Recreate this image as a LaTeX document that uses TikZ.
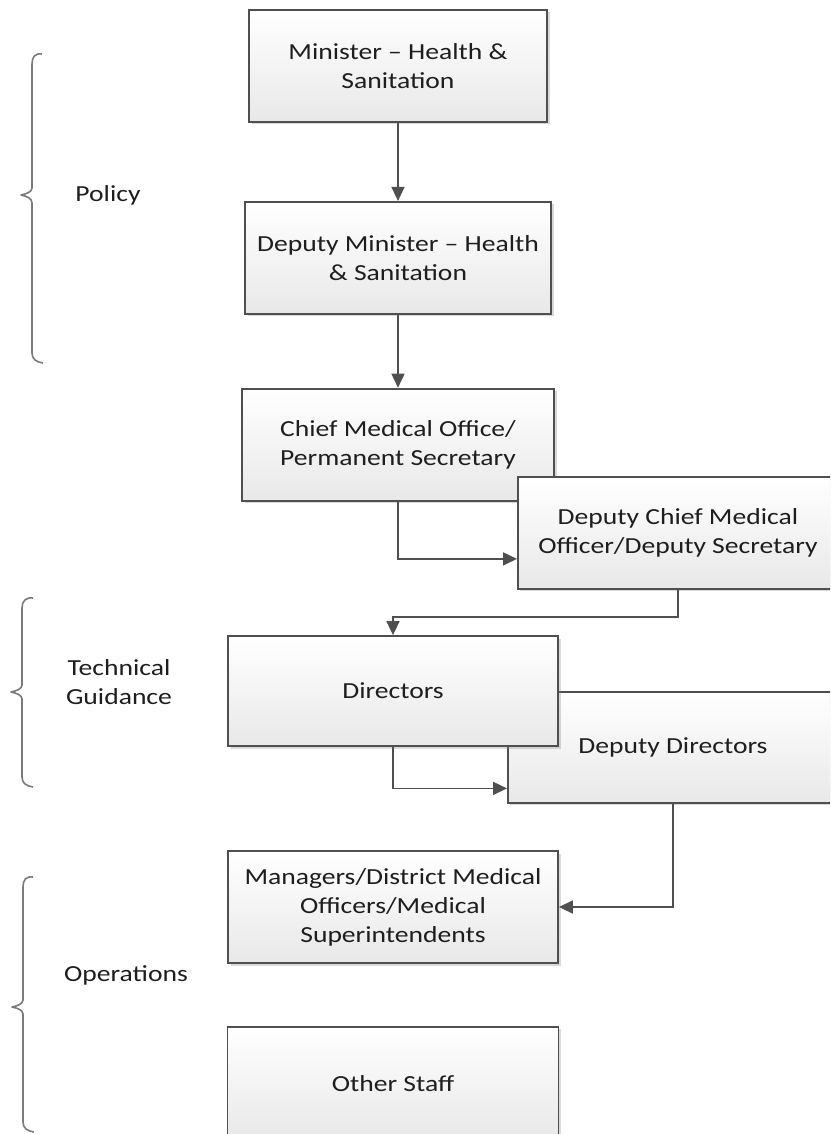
\documentclass[tikz,border=0pt]{standalone}
\usepackage{fontspec}
\setmainfont{Carlito}[FakeStretch=1.2]
\usepackage{tikz}
\usetikzlibrary{arrows.meta, positioning, shadows}
\definecolor{colorLine}{HTML}{4F4F4F}
\definecolor{colorBrace}{HTML}{7A7A7A}
\definecolor{colorText}{HTML}{1E1E1E}
\tikzset{
  orgbox/.style={draw=colorLine, line width=1.8pt, top color=white, bottom color=black!9, drop shadow={shadow xshift=2.5pt, shadow yshift=-2.5pt, opacity=0.3}, minimum height=112pt, inner sep=0pt, align=center, text=colorText, font=\fontsize{23}{29}\selectfont},
  link/.style={->, draw=colorLine, line width=1.6pt},
  phasebrace/.style={draw=colorBrace, line width=1.6pt, line join=round},
  phaselabel/.style={text=colorText, align=center, font=\fontsize{23}{29}\selectfont}
}

\begin{document}
\begin{tikzpicture}[x=1pt, y=-1pt, >={Triangle[length=14pt, width=13pt]}]
\useasboundingbox (0,0) rectangle (830,1134);
\clip (0,0) rectangle (830,1134);
\node[orgbox, minimum width=298pt] (min) at (398,66) {Minister \textendash{} Health \&\\Sanitation};
\node[orgbox, minimum width=306pt, below=78pt of min] (dmin) {Deputy Minister \textendash{} Health\\\& Sanitation};
\node[orgbox, minimum width=312pt, below=73pt of dmin] (chief) {Chief Medical Office/\\Permanent Secretary};
\node[orgbox, minimum width=320pt, anchor=north west] (dchief) at (517,476) {Deputy Chief Medical\\Officer/Deputy Secretary};
\node[orgbox, minimum width=330pt, minimum height=111pt, anchor=north west] (ddir) at (507,691) {Deputy Directors};
\node[orgbox, minimum width=330pt, minimum height=110pt] (dir) at (393,691) {Directors};
\node[orgbox, minimum width=330pt] (mgr) at (393,907) {Managers/District Medical\\Officers/Medical\\Superintendents};
\node[orgbox, minimum width=331pt, minimum height=113pt, below=62pt of mgr] (other) {Other Staff};
\draw[link] (min) -- (dmin);
\draw[link] (dmin) -- (chief);
\draw[link] (chief.south) |- ([yshift=-26pt]dchief.west);
\draw[link] (dchief.south) -- ++(0,27) -| (dir.north);
\draw[link] (dir.south) |- ([yshift=-41pt]ddir.west);
\draw[link] (ddir.south) |- (mgr.east);
\draw[phasebrace] (42,54) .. controls (35,53) and (32,57) .. (32,64) -- (32,188) .. controls (32,192) and (26,194) .. (21,195) .. controls (26,196) and (32,198) .. (32,203) -- (32,353) .. controls (32,359) and (36,362) .. (43,363);
\draw[phasebrace] (33,598) .. controls (26,597) and (22,601) .. (22,608) -- (22,685) .. controls (22,689) and (16,691) .. (11,692) .. controls (16,693) and (22,695) .. (22,699) -- (22,777) .. controls (22,783) and (26,786) .. (33,787);
\draw[phasebrace] (33,877) .. controls (26,876) and (23,880) .. (23,887) -- (23,1000) .. controls (23,1004) and (17,1006) .. (12,1007) .. controls (17,1008) and (23,1010) .. (23,1014) -- (23,1122) .. controls (23,1128) and (27,1131) .. (34,1132);
\node[phaselabel] (policy) at (108,195) {Policy};
\node[phaselabel] (tech) at (119,682) {Technical\\Guidance};
\node[phaselabel] (ops) at (126,975) {Operations};
\end{tikzpicture}
\end{document}
